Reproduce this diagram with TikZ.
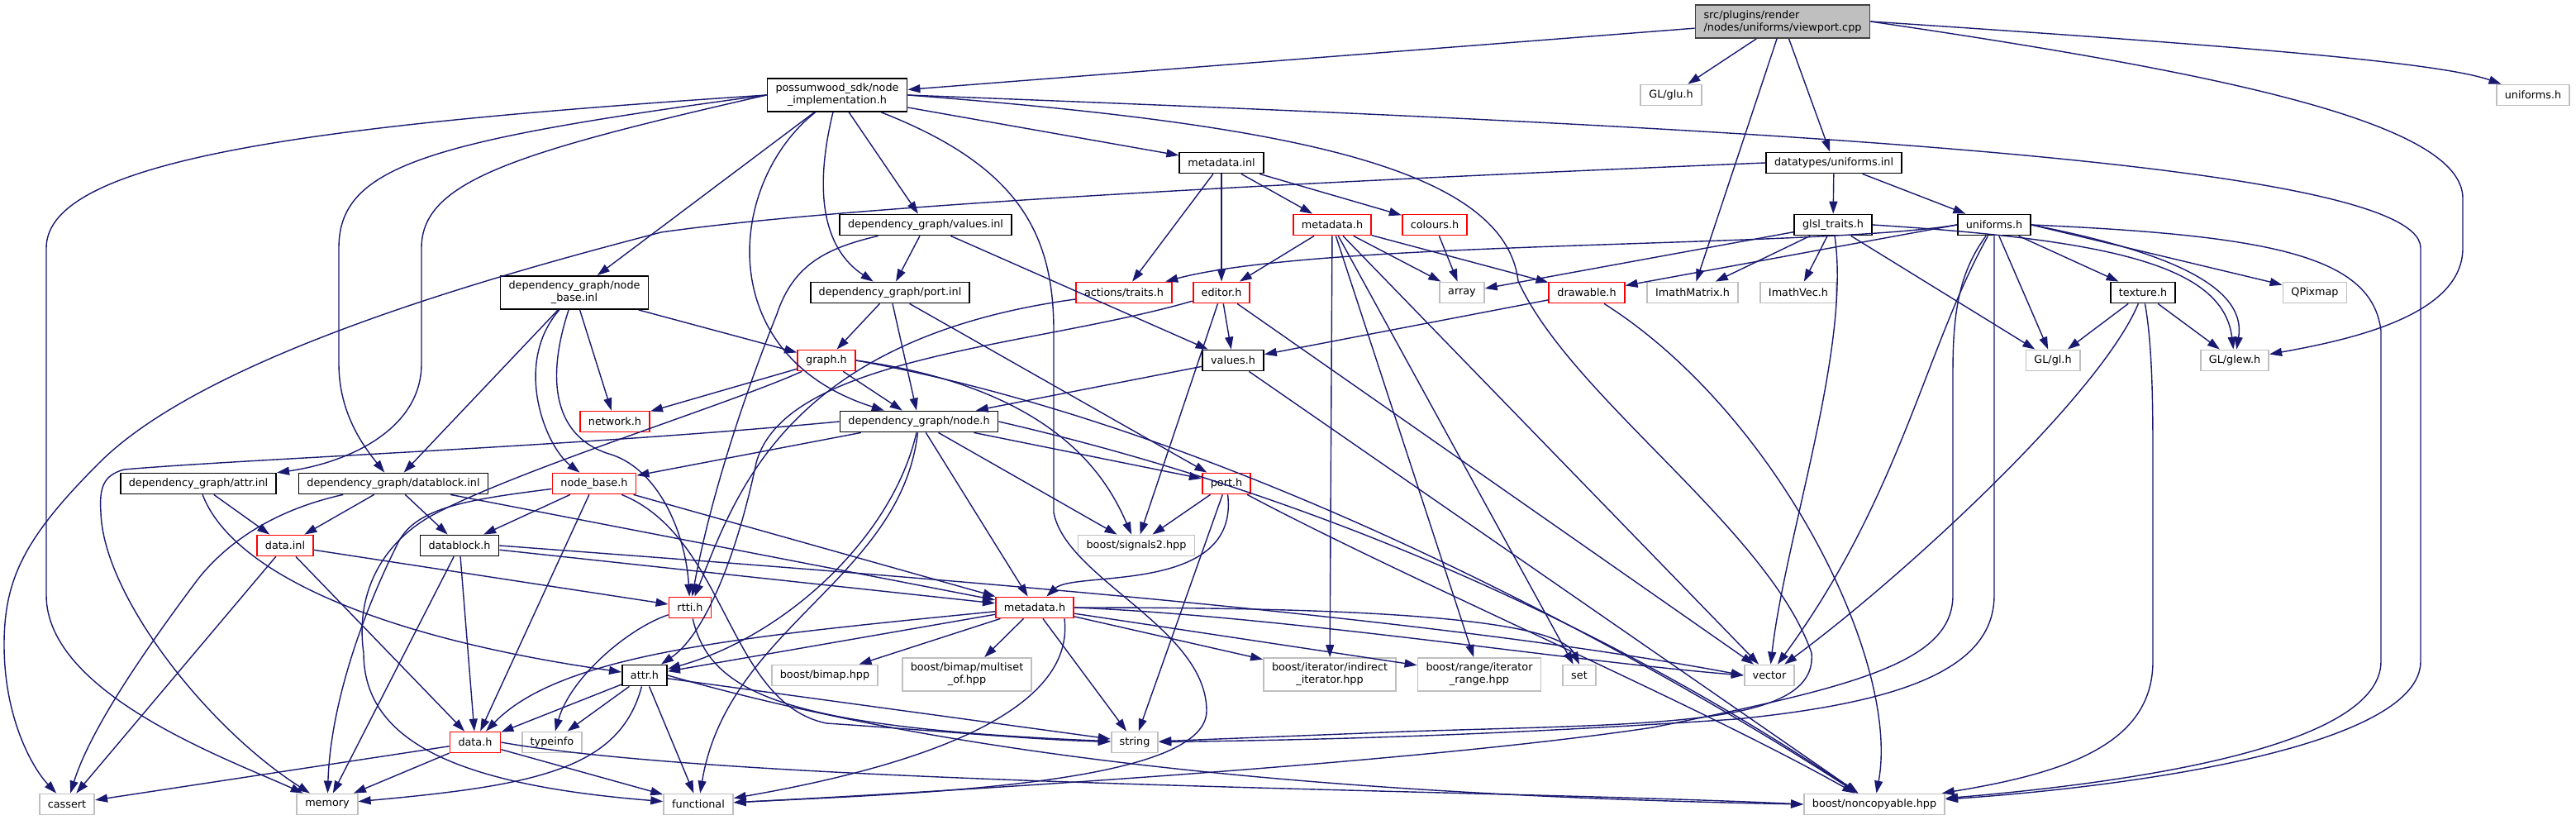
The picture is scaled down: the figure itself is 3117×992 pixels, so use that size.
\documentclass[tikz,border=0pt]{standalone}
\usepackage{fontspec}
\setmainfont{DejaVu Sans}
\usetikzlibrary{arrows.meta}
\definecolor{dgblue}{RGB}{25,25,112}
\definecolor{dggray}{RGB}{191,191,191}
\definecolor{dgdark}{RGB}{64,64,64}
\tikzset{
  hfile/.style={draw=black, fill=white, line width=1.8pt, font=\fontsize{12.8}{15}\selectfont,
                inner xsep=10pt, inner ysep=3pt, minimum height=25pt},
  redfile/.style={hfile, draw=red},
  extfile/.style={hfile, draw=dggray},
  rootfile/.style={hfile, fill=dggray, draw=dgdark, align=left, minimum height=40pt},
  twoline/.style={align=center, minimum height=40pt},
  incl/.style={draw=dgblue, line width=1.4pt, -{Triangle[length=15pt,width=10pt]}},
}
\begin{document}
\begin{tikzpicture}[x=1pt, y=-1pt]
\useasboundingbox (0,0) rectangle (3117,992);

% --- Files, row by row ---
\node[rootfile] (root) at (2157,26) {src/plugins/render\\/nodes/uniforms/viewport.cpp};

\node[hfile, twoline] (nodeimpl) at (1013,115) {possumwood\_sdk/node\\\_implementation.h};
\node[extfile] (glu) at (2022,115) {GL/glu.h};
\node[extfile] (unifext) at (3065,115) {uniforms.h};

\node[hfile] (metainl) at (1478,197) {metadata.inl};
\node[hfile] (unifinl) at (2219,197) {datatypes/uniforms.inl};

\node[hfile] (valinl) at (1120,272) {dependency\_graph/values.inl};
\node[redfile] (metasdk) at (1612,272) {metadata.h};
\node[redfile] (colours) at (1736,272) {colours.h};
\node[hfile] (glsl) at (2218,272) {glsl\_traits.h};
\node[hfile] (unifh) at (2413,272) {uniforms.h};

\node[hfile, twoline] (nbinl) at (695,354) {dependency\_graph/node\\\_base.inl};
\node[hfile] (portinl) at (1077,354) {dependency\_graph/port.inl};
\node[redfile] (traits) at (1360,354) {actions/traits.h};
\node[redfile] (editor) at (1478,354) {editor.h};
\node[extfile] (array) at (1769,354) {array};
\node[redfile] (drawable) at (1920,354) {drawable.h};
\node[extfile] (imatrix) at (2048,354) {ImathMatrix.h};
\node[extfile] (ivec) at (2176,354) {ImathVec.h};
\node[hfile] (texture) at (2593,354) {texture.h};
\node[extfile] (qpixmap) at (2801,354) {QPixmap};

\node[redfile] (graph) at (1000,436) {graph.h};
\node[hfile] (valh) at (1492,436) {values.h};
\node[extfile] (glh) at (2484,436) {GL/gl.h};
\node[extfile] (glew) at (2704,436) {GL/glew.h};

\node[redfile] (network) at (744,510) {network.h};
\node[hfile] (nodeh) at (1112,510) {dependency\_graph/node.h};

\node[hfile] (attrinl) at (240,585) {dependency\_graph/attr.inl};
\node[hfile] (dbinl) at (476,585) {dependency\_graph/datablock.inl};
\node[redfile] (nbh) at (719,585) {node\_base.h};
\node[redfile] (porth) at (1484,585) {port.h};

\node[redfile] (datainl) at (345,660) {data.inl};
\node[hfile] (dbh) at (556,660) {datablock.h};
\node[extfile] (signals) at (1375,660) {boost/signals2.hpp};

\node[redfile] (rtti) at (835,735) {rtti.h};
\node[redfile] (metadg) at (1252,735) {metadata.h};

\node[hfile] (attrh) at (780,817) {attr.h};
\node[extfile] (bimap) at (998,817) {boost/bimap.hpp};
\node[extfile, twoline] (multiset) at (1170,816) {boost/bimap/multiset\\\_of.hpp};
\node[extfile, twoline] (indirect) at (1609,816) {boost/iterator/indirect\\\_iterator.hpp};
\node[extfile, twoline] (range) at (1790,816) {boost/range/iterator\\\_range.hpp};
\node[extfile] (set) at (1911,817) {set};
\node[extfile] (vector) at (2141,817) {vector};

\node[redfile] (datah) at (575,898) {data.h};
\node[extfile] (typeinfo) at (668,898) {typeinfo};
\node[extfile] (string) at (1373,898) {string};

\node[extfile] (cassert) at (81,973) {cassert};
\node[extfile] (memory) at (396,973) {memory};
\node[extfile] (functional) at (845,973) {functional};
\node[extfile] (noncopy) at (2268,973) {boost/noncopyable.hpp};

% --- viewport.cpp ---
\draw[incl] (root) -- (nodeimpl);
\draw[incl] (root) -- (glu);
\draw[incl] (root) -- (imatrix);
\draw[incl] (root) -- (unifinl);
\draw[incl] (root.east) .. controls (2700,55) and (2950,75) .. (unifext);
\draw[incl] (root.east) .. controls (2700,90) and (2980,150) .. (2980,240) -- (2980,300)
  .. controls (2980,380) and (2850,410) .. (glew);

% --- node_implementation.h ---
\draw[incl] (nodeimpl.west) .. controls (400,150) and (56,190) .. (56,300) -- (56,720)
  .. controls (56,840) and (280,920) .. (memory);
\draw[incl] (nodeimpl.west) .. controls (520,170) and (410,200) .. (410,300) -- (410,440)
  .. controls (410,500) and (440,540) .. (dbinl);
\draw[incl] (nodeimpl.west) .. controls (620,185) and (510,220) .. (510,300) -- (510,440)
  .. controls (510,520) and (420,560) .. (attrinl);
\draw[incl] (nodeimpl) -- (nbinl);
\draw[incl] (nodeimpl) .. controls (880,220) and (860,430) .. (nodeh);
\draw[incl] (nodeimpl) .. controls (985,230) and (995,300) .. (portinl);
\draw[incl] (nodeimpl) -- (valinl);
\draw[incl] (nodeimpl) -- (metainl);
\draw[incl] (nodeimpl) .. controls (1230,200) and (1275,280) .. (1275,400) -- (1275,620)
  .. controls (1290,700) and (1460,760) .. (1460,860) .. controls (1460,950) and (1100,960) .. (functional);
\draw[incl] (nodeimpl.east) .. controls (1550,150) and (1820,200) .. (1837,340)
  .. controls (1900,480) and (2140,640) .. (2192,790) .. controls (2200,880) and (2000,875) .. (1700,885) -- (string);
\draw[incl] (nodeimpl.east) .. controls (2000,150) and (2929,190) .. (2929,300) -- (2929,800)
  .. controls (2929,900) and (2600,950) .. (noncopy);

% --- datatypes/uniforms.inl ---
\draw[incl] (unifinl.west) .. controls (1700,215) and (1050,245) .. (800,281)
  .. controls (600,333) and (250,430) .. (120,560) .. controls (30,650) and (5,700) .. (5,780)
  .. controls (5,870) and (40,930) .. (cassert);
\draw[incl] (unifinl) -- (glsl);
\draw[incl] (unifinl) -- (unifh);

% --- metadata.inl ---
\draw[incl] (metainl) -- (traits);
\draw[incl] (metainl) -- (editor);
\draw[incl] (metainl) -- (metasdk);
\draw[incl] (metainl) -- (colours);

% --- values.inl ---
\draw[incl] (valinl) -- (portinl);
\draw[incl] (valinl) .. controls (1000,300) and (960,320) .. (940,380)
  .. controls (900,480) and (860,600) .. (rtti);
\draw[incl] (valinl) -- (valh);

% --- node_base.inl ---
\draw[incl] (nbinl) -- (graph);
\draw[incl] (nbinl) -- (network);
\draw[incl] (nbinl) -- (dbinl);
\draw[incl] (nbinl) .. controls (620,440) and (660,540) .. (nbh);
\draw[incl] (nbinl) .. controls (660,460) and (670,530) .. (740,550)
  .. controls (800,570) and (830,650) .. (rtti);

% --- port.inl ---
\draw[incl] (portinl) -- (graph);
\draw[incl] (portinl) -- (nodeh);
\draw[incl] (portinl) -- (porth);

% --- metadata.h (sdk) and colours.h ---
\draw[incl] (metasdk) -- (editor);
\draw[incl] (metasdk) -- (array);
\draw[incl] (metasdk) -- (drawable);
\draw[incl] (metasdk) -- (indirect);
\draw[incl] (metasdk) -- (range);
\draw[incl] (metasdk) -- (set);
\draw[incl] (metasdk) -- (vector);
\draw[incl] (colours) -- (array);

% --- glsl_traits.h ---
\draw[incl] (glsl) -- (array);
\draw[incl] (glsl) -- (imatrix);
\draw[incl] (glsl) -- (ivec);
\draw[incl] (glsl) .. controls (2240,420) and (2160,650) .. (vector);
\draw[incl] (glsl) -- (glh);
\draw[incl] (glsl.east) .. controls (2550,290) and (2690,320) .. (glew);

% --- uniforms.h ---
\draw[incl] (unifh.west) .. controls (2200,300) and (1600,290) .. (traits);
\draw[incl] (unifh.west) -- (drawable);
\draw[incl] (unifh) -- (glh);
\draw[incl] (unifh) -- (texture);
\draw[incl] (unifh.east) -- (qpixmap);
\draw[incl] (unifh.east) .. controls (2600,300) and (2720,340) .. (glew);
\draw[incl] (unifh) .. controls (2330,420) and (2300,600) .. (vector);
\draw[incl] (unifh) .. controls (2370,330) and (2363,380) .. (2363,450) -- (2363,720)
  .. controls (2363,800) and (2250,830) .. (2000,880) .. controls (1700,925) and (1100,960) .. (functional);
\draw[incl] (unifh) -- (2413,720) .. controls (2413,810) and (2300,850) .. (2100,870)
  .. controls (1800,890) and (1600,895) .. (string);
\draw[incl] (unifh.east) .. controls (2750,285) and (2870,310) .. (2881,400) -- (2881,800)
  .. controls (2881,900) and (2600,945) .. (noncopy);

% --- texture.h ---
\draw[incl] (texture) -- (glh);
\draw[incl] (texture) -- (glew);
\draw[incl] (texture) .. controls (2540,480) and (2300,700) .. (vector);
\draw[incl] (texture) .. controls (2605,420) and (2605,500) .. (2605,560) -- (2605,800)
  .. controls (2605,900) and (2500,935) .. (noncopy);

% --- drawable.h, editor.h, actions/traits.h, values.h ---
\draw[incl] (drawable) -- (valh);
\draw[incl] (drawable) .. controls (2150,500) and (2300,800) .. (noncopy);
\draw[incl] (editor) -- (valh);
\draw[incl] (editor) .. controls (1250,420) and (950,430) .. (915,560)
  .. controls (890,680) and (850,770) .. (attrh);
\draw[incl] (editor) -- (signals);
\draw[incl] (editor) -- (vector);
\draw[incl] (traits) .. controls (950,410) and (890,600) .. (rtti);
\draw[incl] (valh) -- (nodeh);
\draw[incl] (valh) -- (noncopy);

% --- graph.h ---
\draw[incl] (graph) -- (network);
\draw[incl] (graph) -- (nodeh);
\draw[incl] (graph.east) .. controls (1280,470) and (1340,580) .. (signals);
\draw[incl] (graph.east) .. controls (1500,520) and (2000,800) .. (noncopy);
\draw[incl] (graph) .. controls (880,490) and (620,570) .. (520,625)
  .. controls (460,660) and (430,720) .. (440,790) .. controls (440,900) and (560,950) .. (functional);

% --- node.h ---
\draw[incl] (nodeh) -- (nbh);
\draw[incl] (nodeh) -- (porth);
\draw[incl] (nodeh) -- (metadg);
\draw[incl] (nodeh) -- (signals);
\draw[incl] (nodeh) .. controls (1080,650) and (950,770) .. (attrh);
\draw[incl] (nodeh) .. controls (1090,700) and (880,760) .. (functional);
\draw[incl] (nodeh.west) .. controls (700,540) and (300,555) .. (150,568)
  .. controls (125,575) and (120,590) .. (122,620) .. controls (125,720) and (250,880) .. (memory);
\draw[incl] (nodeh.east) .. controls (1600,600) and (1950,760) .. (noncopy);

% --- port.h ---
\draw[incl] (porth) -- (signals);
\draw[incl] (porth) -- (string);
\draw[incl] (porth) .. controls (1500,720) and (1300,690) .. (metadg);
\draw[incl] (porth) .. controls (1700,700) and (2050,850) .. (noncopy);

% --- metadata.h (dependency_graph) ---
\draw[incl] (metadg) .. controls (900,770) and (680,790) .. (datah);
\draw[incl] (metadg) -- (attrh);
\draw[incl] (metadg) -- (bimap);
\draw[incl] (metadg) -- (multiset);
\draw[incl] (metadg) -- (string);
\draw[incl] (metadg) -- (indirect);
\draw[incl] (metadg) -- (range);
\draw[incl] (metadg.east) .. controls (1550,735) and (1880,740) .. (set.north);
\draw[incl] (metadg.east) .. controls (1550,745) and (1900,800) .. (vector.west);
\draw[incl] ([xshift=-12pt]metadg.south east) .. controls (1300,850) and (1150,920) .. (functional);

% --- datablock.inl, attr.inl ---
\draw[incl] (dbinl) -- (datainl);
\draw[incl] (dbinl) -- (dbh);
\draw[incl] (dbinl) .. controls (340,615) and (280,650) .. (240,700)
  .. controls (180,780) and (110,880) .. (cassert);
\draw[incl] (dbinl) -- (metadg);
\draw[incl] (attrinl) -- (datainl);
\draw[incl] (attrinl) .. controls (280,690) and (450,770) .. (attrh);

% --- node_base.h, datablock.h ---
\draw[incl] (nbh) -- (dbh);
\draw[incl] (nbh) -- (datah);
\draw[incl] (nbh) -- (metadg);
\draw[incl] (nbh) .. controls (880,650) and (880,850) .. (1000,875)
  .. controls (1150,885) and (1250,895) .. (string);
\draw[incl] (nbh) .. controls (560,605) and (500,615) .. (480,660)
  .. controls (440,740) and (400,850) .. (memory);
\draw[incl] (dbh) -- (datah);
\draw[incl] (dbh) -- (memory);
\draw[incl] (dbh) -- (metadg);
\draw[incl] (dbh.east) .. controls (1000,690) and (1700,740) .. (vector.west);

% --- data.inl, rtti.h ---
\draw[incl] (datainl) -- (cassert);
\draw[incl] (datainl) -- (datah);
\draw[incl] (datainl) -- (rtti);
\draw[incl] (rtti) .. controls (760,760) and (690,820) .. (typeinfo);
\draw[incl] (rtti) .. controls (860,840) and (950,880) .. (string);

% --- attr.h ---
\draw[incl] (attrh) -- (datah);
\draw[incl] (attrh) -- (typeinfo);
\draw[incl] (attrh) .. controls (750,930) and (650,950) .. (memory);
\draw[incl] (attrh) -- (functional);
\draw[incl] (attrh) -- (string);
\draw[incl] (attrh.east) .. controls (1100,900) and (1500,960) .. (noncopy.west);

% --- data.h ---
\draw[incl] (datah) -- (cassert);
\draw[incl] (datah) -- (memory);
\draw[incl] (datah) -- (functional);
\draw[incl] (datah.east) .. controls (900,950) and (1800,955) .. (noncopy.west);

\end{tikzpicture}
\end{document}
